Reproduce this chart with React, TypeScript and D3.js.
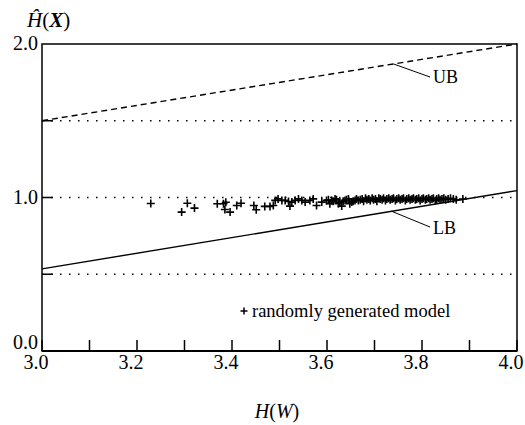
import * as d3 from 'd3'

const X_TICKS = [3.0, 3.1, 3.2, 3.3, 3.4, 3.5, 3.6, 3.7, 3.8, 3.9, 4.0]
const X_LABELS = [3.0, 3.2, 3.4, 3.6, 3.8, 4.0]
const Y_TICKS = [0.5, 1.0, 1.5]
const Y_LABELS = [0.0, 1.0, 2.0]
const REF_LINES = [0.5, 1.0, 1.5]

const UB: [number, number][] = [[3.0, 1.5], [4.0, 2.0]]
const LB: [number, number][] = [[3.0, 0.535], [4.0, 1.045]]

// randomly generated models
const MODELS: [number, number][] = [
  [3.229, 0.961], [3.294, 0.905], [3.306, 0.963], [3.321, 0.931],
  [3.369, 0.959], [3.382, 0.959], [3.387, 0.969], [3.385, 0.922],
  [3.396, 0.905], [3.41, 0.948], [3.419, 0.963], [3.446, 0.948],
  [3.451, 0.92], [3.469, 0.942], [3.48, 0.942], [3.487, 0.948],
  [3.491, 0.981], [3.497, 0.991], [3.505, 0.981], [3.512, 0.981],
  [3.519, 0.974], [3.526, 0.97], [3.522, 0.944], [3.533, 0.981],
  [3.54, 0.991], [3.547, 0.981], [3.554, 0.97], [3.564, 0.981],
  [3.571, 0.991], [3.578, 0.948], [3.589, 0.97], [3.599, 0.981],
  [3.603, 0.985], [3.606, 0.96], [3.61, 0.981], [3.613, 0.975],
  [3.617, 0.991], [3.62, 0.985], [3.624, 0.96], [3.627, 0.97],
  [3.631, 0.944], [3.634, 0.975], [3.638, 0.981], [3.641, 0.985],
  [3.645, 0.991], [3.648, 0.96], [3.652, 0.97], [3.655, 0.975],
  [3.659, 0.981], [3.662, 0.99], [3.666, 0.981],
  [3.67, 0.985], [3.674, 0.99], [3.677, 0.975], [3.681, 0.995],
  [3.684, 0.985], [3.688, 0.99], [3.691, 0.98], [3.695, 0.995],
  [3.698, 0.985], [3.702, 0.99], [3.705, 0.975], [3.709, 0.995],
  [3.712, 0.99], [3.716, 0.985], [3.719, 0.995], [3.723, 0.98],
  [3.726, 0.99], [3.73, 0.995], [3.733, 0.985], [3.737, 0.99],
  [3.74, 0.995], [3.744, 0.98], [3.747, 0.99], [3.751, 0.995],
  [3.754, 0.985], [3.758, 0.99], [3.761, 0.995], [3.765, 0.98],
  [3.768, 0.99], [3.772, 0.995], [3.775, 0.985], [3.779, 0.99],
  [3.782, 0.995], [3.786, 0.985], [3.789, 0.99], [3.793, 0.995],
  [3.796, 0.98], [3.8, 0.99], [3.803, 0.995], [3.807, 0.985],
  [3.81, 0.99], [3.814, 0.995], [3.817, 0.985], [3.821, 0.99],
  [3.824, 0.995], [3.828, 0.98], [3.831, 0.99], [3.835, 0.995],
  [3.838, 0.985], [3.842, 0.99], [3.846, 0.995], [3.85, 0.985],
  [3.855, 0.99], [3.86, 0.995], [3.866, 0.99], [3.872, 0.985],
  [3.886, 0.99],
]

const FONT = 'Liberation Serif'

const W = 525
const H = 425
const LEFT = 42
const RIGHT = 517
const TOP = 44
const BOTTOM = 351

const x = d3.scaleLinear().domain([3, 4]).range([LEFT, RIGHT])
const y = d3.scaleLinear().domain([0, 2]).range([BOTTOM, TOP])

const line = d3
  .line<[number, number]>()
  .x((d) => x(d[0]))
  .y((d) => y(d[1]))

function crossPath(cx: number, cy: number, r: number) {
  return `M${cx - r},${cy}H${cx + r}M${cx},${cy - r}V${cy + r}`
}

// point on a bound line at a given H(W)
function onLine(seg: [number, number][], at: number) {
  const t = (at - seg[0][0]) / (seg[1][0] - seg[0][0])
  return [x(at), y(seg[0][1] + (seg[1][1] - seg[0][1]) * t)]
}

export default function App() {
  document.body.style.margin = '0'
  const [ubx, uby] = onLine(UB, 3.74)
  const [lbx, lby] = onLine(LB, 3.736)

  return (
    <svg width={W} height={H} style={{ display: 'block', background: '#fff' }} fontFamily={FONT}>
      {REF_LINES.map((v) => (
        <line
          key={v}
          x1={LEFT}
          x2={RIGHT}
          y1={y(v)}
          y2={y(v)}
          stroke="#000"
          strokeWidth={1.3}
          strokeDasharray="1.5,7.5"
        />
      ))}

      <path d={line(UB) ?? ''} fill="none" stroke="#000" strokeWidth={1.4} strokeDasharray="6,4" />
      <path d={line(LB) ?? ''} fill="none" stroke="#000" strokeWidth={1.4} />

      <line x1={ubx} y1={uby} x2={430} y2={77} stroke="#000" strokeWidth={1} />
      <text x={433} y={83} fontSize={18} fontFamily={FONT}>UB</text>
      <line x1={lbx} y1={lby} x2={430} y2={227} stroke="#000" strokeWidth={1} />
      <text x={433} y={234} fontSize={18} fontFamily={FONT}>LB</text>

      {MODELS.map((d, i) => (
        <path key={i} d={crossPath(x(d[0]), y(d[1]), 4)} stroke="#000" strokeWidth={1.6} fill="none" />
      ))}

      <rect
        x={LEFT}
        y={TOP}
        width={RIGHT - LEFT}
        height={BOTTOM - TOP}
        fill="none"
        stroke="#000"
        strokeWidth={1.5}
      />
      <line x1={LEFT} x2={RIGHT} y1={BOTTOM} y2={BOTTOM} stroke="#000" strokeWidth={2} />

      {X_TICKS.map((v) => (
        <line key={v} x1={x(v)} x2={x(v)} y1={BOTTOM} y2={BOTTOM - 11} stroke="#000" strokeWidth={1.5} />
      ))}
      {Y_TICKS.map((v) => (
        <line key={v} x1={LEFT} x2={LEFT + 11} y1={y(v)} y2={y(v)} stroke="#000" strokeWidth={1.5} />
      ))}

      {X_LABELS.map((v) => (
        <text key={v} x={x(v) - 6} y={369} textAnchor="middle" fontSize={20} fontFamily={FONT}>
          {v.toFixed(1)}
        </text>
      ))}
      {Y_LABELS.map((v) => (
        <text
          key={v}
          x={38}
          y={v === 0 ? y(v) - 2 : y(v) + 6}
          textAnchor="end"
          fontSize={20}
          fontFamily={FONT}
        >
          {v.toFixed(1)}
        </text>
      ))}

      <text x={277} y={418} textAnchor="middle" fontSize={20} fontFamily={FONT}>
        <tspan fontStyle="italic">H</tspan>(<tspan fontStyle="italic">W</tspan>)
      </text>

      <text x={27} y={27} fontSize={21} fontFamily={FONT}>
        <tspan fontStyle="italic">Ĥ</tspan>(<tspan fontStyle="italic" fontWeight="bold">X</tspan>)
      </text>

      <path d={crossPath(244, 311, 3.5)} stroke="#000" strokeWidth={1.5} />
      <text x={252} y={317} fontSize={18.5} fontFamily={FONT}>randomly generated model</text>
    </svg>
  )
}
